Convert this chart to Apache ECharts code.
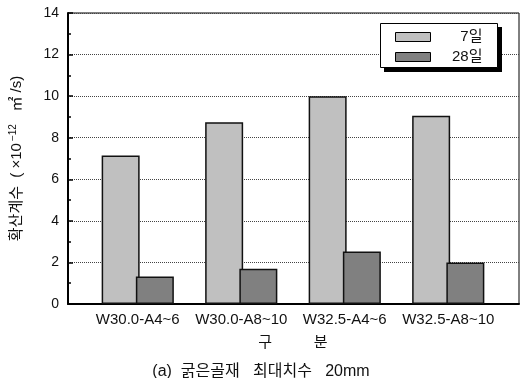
<!DOCTYPE html>
<html><head><meta charset="utf-8">
<script src="https://cdn.jsdelivr.net/npm/echarts@6/dist/echarts.min.js"></script>
<style>html,body{margin:0;padding:0;background:#fff}#c{width:522px;height:378px}</style>
</head><body><div id="c"></div>
<script>
const categories = ['W30.0-A4~6', 'W30.0-A8~10', 'W32.5-A4~6', 'W32.5-A8~10'];
const seriesNames = ['7일', '28일'];
const day7 = [7.15, 8.74, 10.0, 9.06];
const day28 = [1.32, 1.7, 2.52, 2.0];
const yTicks = [0, 2, 4, 6, 8, 10, 12, 14];

const FONT = '"Liberation Sans", Arial, "Noto Sans CJK KR", sans-serif';
const chart = echarts.init(document.getElementById('c'), null, {renderer: 'canvas'});
chart.setOption({
  animation: false,
  backgroundColor: '#fff',
  textStyle: {fontFamily: FONT},
  title: {
    text: '(a)  굵은골재   최대치수   20mm',
    left: 'center', top: 359,
    textStyle: {fontSize: 16, fontWeight: 'normal', color: '#111', fontFamily: FONT}
  },
  graphic: [
    {type: 'rect', left: 384, top: 27, z: 50, silent: true,
     shape: {width: 118, height: 45}, style: {fill: '#000'}},
    {type: 'rect', left: 380, top: 23, z: 55, silent: true,
     shape: {width: 117, height: 44}, style: {fill: '#fff', stroke: '#000', lineWidth: 1}}
  ],
  legend: {
    data: seriesNames,
    orient: 'vertical',
    left: 380, top: 23, z: 60,
    icon: 'rect',
    itemWidth: 35, itemHeight: 9, itemGap: 4,
    padding: [6, 16, 4, 15],
    backgroundColor: 'transparent',
    borderWidth: 0,
    itemStyle: {borderColor: '#000', borderWidth: 1},
    formatter: n => '{r|' + n + '}',
    textStyle: {fontSize: 15, color: '#111', lineHeight: 16, fontFamily: FONT,
      rich: {r: {width: 47, align: 'right', fontSize: 15, color: '#111', fontFamily: FONT, lineHeight: 16}}}
  },
  grid: [
    {left: 67, right: 3, top: 13, bottom: 74, show: true, borderColor: '#000', borderWidth: 1, backgroundColor: 'transparent'},
    {left: 86, right: 22, top: 13, bottom: 74}
  ],
  xAxis: [
    {type: 'category', gridIndex: 0, data: ['a'], axisLine: {show: true, lineStyle: {color: '#000', width: 2}},
     axisTick: {show: false}, axisLabel: {show: false}},
    {type: 'category', gridIndex: 1, data: categories,
     axisLine: {show: false}, axisTick: {show: false},
     axisLabel: {interval: 0, fontSize: 15, color: '#111', margin: 8, fontFamily: FONT},
     name: '구          분', nameLocation: 'middle', nameGap: 31,
     nameTextStyle: {fontSize: 15, color: '#111', fontFamily: FONT}}
  ],
  yAxis: [
    {type: 'value', gridIndex: 0, min: yTicks[0], max: yTicks[yTicks.length - 1], interval: 2,
     axisLine: {show: true, lineStyle: {color: '#000', width: 2}},
     axisTick: {show: true, inside: true, length: 5, lineStyle: {color: '#000', width: 1.5}},
     minorTick: {show: true, splitNumber: 2, length: 3, lineStyle: {color: '#000', width: 1.5}},
     axisLabel: {fontSize: 14, color: '#111', margin: 9, fontFamily: FONT,
       formatter: v => (yTicks.indexOf(v) >= 0 ? String(v) : '')},
     splitLine: {show: true, lineStyle: {color: '#444', type: [1, 1], width: 1}},
     name: '{a|확산계수  ( ×10}{s|−12}{a|   ㎡ /s)}', nameLocation: 'middle', nameGap: 42, nameRotate: 90,
     nameTextStyle: {rich: {
       a: {fontSize: 15, color: '#111', fontFamily: FONT},
       s: {fontSize: 10, color: '#111', fontFamily: FONT, verticalAlign: 'top', padding: [0, 0, 8, 2]}
     }}},
    {type: 'value', gridIndex: 1, min: 0, max: 14, interval: 2, show: false, splitLine: {show: false}}
  ],
  series: [
    {name: seriesNames[0], type: 'bar', xAxisIndex: 1, yAxisIndex: 1, data: day7,
     barWidth: 38, barGap: '-10%',
     itemStyle: {color: '#c0c0c0', borderColor: '#111', borderWidth: 1.5}},
    {name: seriesNames[1], type: 'bar', xAxisIndex: 1, yAxisIndex: 1, data: day28,
     barWidth: 38, barGap: '-10%',
     itemStyle: {color: '#808080', borderColor: '#111', borderWidth: 1.5}}
  ]
});
</script></body></html>
